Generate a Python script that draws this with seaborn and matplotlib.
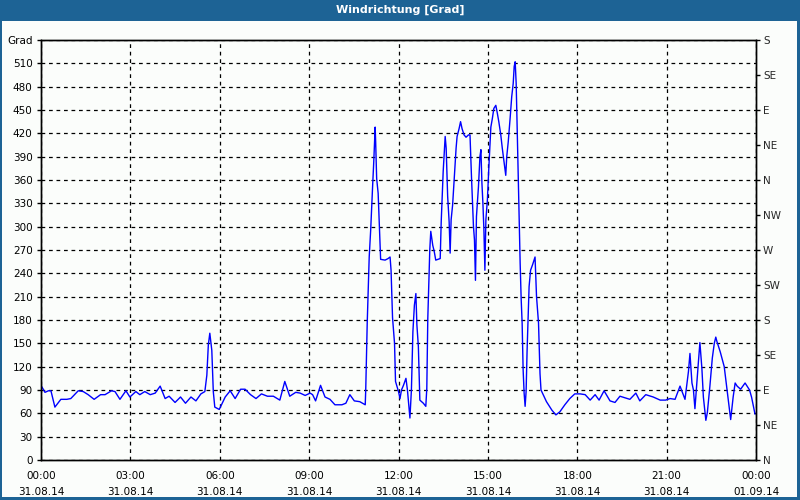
import numpy as np
import pandas as pd
import matplotlib
matplotlib.use("Agg")
import matplotlib.pyplot as plt
from matplotlib.patches import Rectangle
import seaborn as sns

# Minuten seit 00:00 (31.08.14) und Windrichtung in Grad
minutes = [0, 8, 15, 20, 28, 40, 52, 60, 75, 85, 95, 107, 120, 129, 142, 149, 159, 171,
           179, 191, 199, 209, 220, 230, 240, 250, 258, 270, 281, 291, 302, 312, 322, 330,
           334, 337, 340, 344, 347, 350, 359, 371, 381, 391, 402, 411, 422, 433, 444, 456,
           468, 481, 491, 501, 513, 522, 532, 542, 547, 553, 563, 572, 582, 592, 606, 614,
           622, 631, 642, 653, 654, 657, 661, 664, 666, 668, 670, 673, 674, 676, 679, 681,
           683, 684, 693, 699, 703, 705, 708, 712, 714, 720, 723, 726, 730, 735, 738, 741,
           743, 746, 749, 752, 755, 757, 760, 763, 770, 775, 777, 779, 781, 783, 785, 789,
           792, 795, 804, 806, 810, 814, 816, 819, 822, 824, 826, 829, 832, 836, 838, 842,
           845, 848, 852, 856, 861, 864, 867, 871, 873, 875, 877, 881, 884, 886, 888, 890,
           892, 894, 896, 899, 902, 906, 909, 912, 916, 919, 922, 926, 929, 932, 936, 938,
           941, 945, 948, 951, 953, 955, 957, 959, 961, 963, 965, 967, 969, 971, 973, 975,
           977, 979, 983, 986, 990, 995, 998, 1002, 1005, 1007, 1018, 1029, 1037, 1045,
           1055, 1065, 1075, 1086, 1096, 1106, 1116, 1124, 1134, 1146, 1156, 1166, 1176,
           1186, 1198, 1206, 1218, 1233, 1247, 1258, 1267, 1277, 1287, 1297, 1304, 1307,
           1311, 1314, 1317, 1321, 1324, 1327, 1331, 1334, 1339, 1342, 1347, 1352, 1356,
           1359, 1361, 1368, 1376, 1381, 1386, 1389, 1394, 1398, 1402, 1409, 1418, 1427,
           1431, 1438]
grad = [96, 87, 89, 89, 68, 78, 78, 79, 89, 88, 84, 78, 84, 84, 89, 88, 78, 89,
        81, 88, 84, 88, 84, 86, 95, 79, 82, 74, 81, 73, 81, 76, 85, 88,
        109, 148, 163, 141, 88, 68, 65, 81, 89, 79, 91, 91, 84, 79, 85, 82,
        82, 77, 101, 82, 87, 86, 83, 86, 84, 76, 96, 81, 78, 71, 71, 73,
        84, 76, 75, 71, 90, 176, 261, 296, 326, 354, 381, 428, 409, 362, 343, 309,
        274, 258, 257, 259, 261, 244, 183, 150, 101, 88, 79, 90, 96, 105, 90, 69,
        54, 90, 165, 199, 214, 174, 146, 77, 73, 69, 92, 182, 227, 270, 294, 276,
        268, 257, 259, 306, 371, 416, 401, 339, 306, 266, 309, 328, 360, 401, 416, 426,
        435, 426, 418, 415, 418, 418, 364, 300, 283, 231, 313, 351, 390, 399, 356, 330,
        296, 244, 309, 334, 377, 428, 439, 452, 456, 446, 435, 418, 401, 386, 366, 390,
        409, 441, 467, 484, 506, 512, 484, 428, 369, 309, 253, 208, 176, 116, 86, 69,
        88, 141, 223, 244, 251, 261, 210, 176, 111, 90, 75, 64, 58, 62,
        71, 79, 85, 85, 84, 77, 84, 77, 89, 76, 74, 82, 80,
        78, 86, 76, 84, 81, 77, 77, 79, 78, 95, 78, 114, 137,
        99, 90, 66, 101, 126, 151, 118, 81, 51, 61, 94, 131, 150,
        158, 153, 139, 120, 94, 69, 52, 81, 99, 95, 91, 99, 90,
        81, 59]

x_ticks = list(range(0, 1441, 180))
x_labels = ["00:00\n31.08.14", "03:00\n31.08.14", "06:00\n31.08.14", "09:00\n31.08.14",
            "12:00\n31.08.14", "15:00\n31.08.14", "18:00\n31.08.14", "21:00\n31.08.14",
            "00:00\n01.09.14"]
y_ticks = list(range(0, 541, 30))
y_labels = [str(v) for v in range(0, 511, 30)] + ["Grad"]
dir_ticks = list(range(0, 541, 45))
dir_labels = ["N", "NE", "E", "SE", "S", "SW", "W", "NW", "N", "NE", "E", "SE", "S"]

df = pd.DataFrame({"minute": minutes, "grad": grad})

sns.set_style("white")
plt.rcParams["font.family"] = ["DejaVu Sans"]
plt.rcParams["font.size"] = 7.5

frame_blue = "#1d6395"
fig = plt.figure(figsize=(8, 5), dpi=100)
fig.patch.set_facecolor(frame_blue)
# heller Innenbereich des Fensters
fig.patches.append(Rectangle((2 / 800, 3 / 500), 795 / 800, 476 / 500,
                             transform=fig.transFigure, facecolor="#fbfdfb",
                             edgecolor="none", zorder=-10))
fig.text(0.5, 1 - 10 / 500, "Windrichtung [Grad]", color="white", ha="center",
         va="center", fontsize=8, fontweight="bold")

ax = fig.add_axes([41 / 800, 40 / 500, 715 / 800, 420 / 500])
ax.set_facecolor("#fbfdfb")
sns.lineplot(data=df, x="minute", y="grad", ax=ax, color="#0000ff", linewidth=1)

ax.set_xlim(0, 1440)
ax.set_ylim(0, 540)
ax.set_xticks(x_ticks)
ax.set_xticklabels(x_labels, linespacing=1.7)
ax.set_xticks(range(0, 1441, 60), minor=True)
ax.set_yticks(y_ticks)
ax.set_yticklabels(y_labels)
ax.set_xlabel("")
ax.set_ylabel("")
ax.tick_params(axis="both", which="both", direction="out", length=3, width=1,
               color="black", labelcolor="black", labelsize=7.5)
ax.tick_params(axis="x", which="major", pad=5)
ax.tick_params(axis="y", pad=3)
ax.grid(True, which="major", color="black", linestyle=(0, (3, 3)), linewidth=0.9)
for s in ax.spines.values():
    s.set_color("black")
    s.set_linewidth(1)

ax2 = ax.twinx()
ax2.set_ylim(0, 540)
ax2.set_yticks(dir_ticks)
ax2.set_yticklabels(dir_labels)
ax2.tick_params(axis="y", direction="out", length=3, width=1, color="black",
                labelsize=7.5, pad=2)
ax2.grid(False)
for s in ax2.spines.values():
    s.set_color("black")
    s.set_linewidth(1)

fig.savefig("out.png", dpi=100, facecolor=fig.get_facecolor())
